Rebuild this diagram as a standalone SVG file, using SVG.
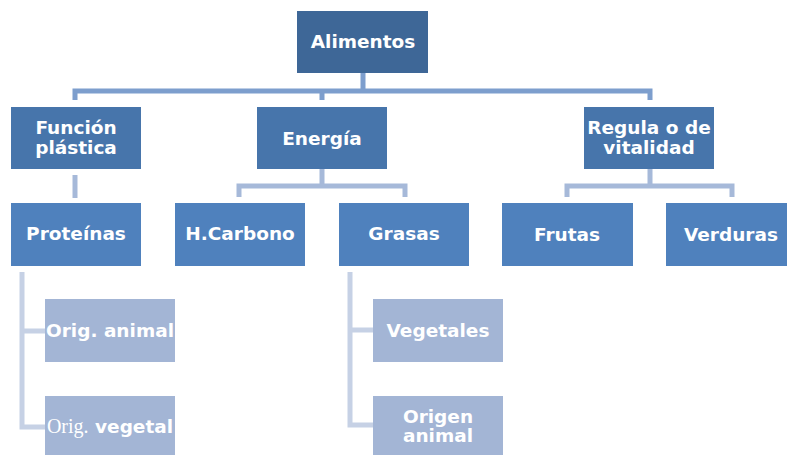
<svg xmlns="http://www.w3.org/2000/svg" width="787" height="455" viewBox="0 0 787 455">
<style>
text{font-family:"DejaVu Sans",Verdana,sans-serif;font-weight:bold;font-size:18.5px;fill:#fff;text-anchor:middle}
.l0{fill:#3e6797}
.l1{fill:#4775ab}
.l2{fill:#4f81bd}
.l3{fill:#a3b5d5}
.c0{stroke:#7d9ecd;stroke-width:5;fill:none}
.c1{stroke:#a6b9d9;stroke-width:5;fill:none}
.c2{stroke:#c6d1e5;stroke-width:5;fill:none}
.serif{font-family:"Liberation Serif","Times New Roman",serif;font-weight:normal;font-size:20px}
</style>
<rect width="787" height="455" fill="#fff"/>
<g id="connectors">
<path class="c0" d="M363 73V91M75 100V91H650V100M322 91V100"/>
<path class="c1" d="M75 175V198"/>
<path class="c1" d="M322 169V186M239 197V186H405V197"/>
<path class="c1" d="M650 169V186M567 197V186H732V197"/>
<path class="c2" d="M22 272V427H45M22 331H45"/>
<path class="c2" d="M350 272V425H373M350 330H373"/>
</g>
<g id="alimentos"><rect class="l0" x="297" y="11" width="131" height="62"/><text x="363" y="48">Alimentos</text></g>
<g id="funcion"><rect class="l1" x="11" y="107" width="130" height="62"/><text x="76" y="134">Función</text><text x="76" y="154">plástica</text></g>
<g id="energia"><rect class="l1" x="257" y="107" width="130" height="62"/><text x="322" y="145">Energía</text></g>
<g id="regula"><rect class="l1" x="584" y="107" width="130" height="62"/><text x="649" y="134">Regula o de</text><text x="649" y="154">vitalidad</text></g>
<g id="proteinas"><rect class="l2" x="11" y="203" width="130" height="63"/><text x="76" y="240">Proteínas</text></g>
<g id="hcarbono"><rect class="l2" x="175" y="203" width="130" height="63"/><text x="240" y="240">H.Carbono</text></g>
<g id="grasas"><rect class="l2" x="339" y="203" width="130" height="63"/><text x="404" y="240">Grasas</text></g>
<g id="frutas"><rect class="l2" x="502" y="203" width="131" height="63"/><text x="567" y="241">Frutas</text></g>
<g id="verduras"><rect class="l2" x="666" y="203" width="130" height="63"/><text x="731" y="241">Verduras</text></g>
<g id="orig-animal"><rect class="l3" x="45" y="299" width="130" height="63"/><text x="110" y="337">Orig. animal</text></g>
<g id="orig-vegetal"><rect class="l3" x="45" y="396" width="130" height="62"/><text x="110" y="433"><tspan class="serif">Orig.</tspan> vegetal</text></g>
<g id="vegetales"><rect class="l3" x="373" y="299" width="130" height="63"/><text x="438" y="337">Vegetales</text></g>
<g id="origen-animal"><rect class="l3" x="373" y="396" width="130" height="62"/><text x="438" y="423">Origen</text><text x="438" y="442">animal</text></g>
</svg>
